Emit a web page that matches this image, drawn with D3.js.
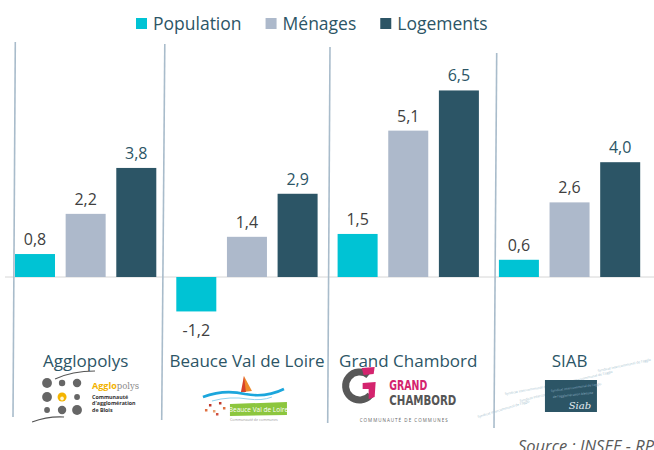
<!DOCTYPE html>
<html><head><meta charset="utf-8">
<script src="https://cdn.jsdelivr.net/npm/d3@7"></script>
<style>
html,body{margin:0;padding:0;background:#fff;overflow:hidden;}
svg{display:block;font-family:"Open Sans",sans-serif;}
</style></head><body>
<svg id="chart" width="654" height="450"></svg>
<script>
// ---- data ----
const categories = ["Agglopolys", "Beauce Val de Loire", "Grand Chambord", "SIAB"];
const seriesNames = ["Population", "Ménages", "Logements"];
const population = [0.8, -1.2, 1.5, 0.6];
const menages = [2.2, 1.4, 5.1, 2.6];
const logements = [3.8, 2.9, 6.5, 4.0];
const sourceText = "Source : INSEE - RP";

// ---- styles ----
const colors = ["#00c3d4", "#adb9cb", "#2c5566"];
const labelColors = ["#404040", "#404040", "#2c5566"];
const textTeal = "#2c5566";

const svg = d3.select("#chart");
const seriesValues = [population, menages, logements];
const rows = [];
categories.forEach((c, i) => seriesNames.forEach((s, j) => rows.push({cat: c, ser: s, si: j, v: seriesValues[j][i]})));

const x0 = d3.scaleBand().domain(categories).range([15, 640.2]).paddingInner(0.124).paddingOuter(0);
const x1 = d3.scaleBand().domain(seriesNames).range([0, x0.bandwidth()]).paddingInner(0.21).paddingOuter(0);
const y = d3.scaleLinear().domain([-2, 7]).range([334.4, 76.1]);
const fmt = v => d3.format(".1f")(Math.abs(v)).replace(".", ",");
const fmtLabel = v => (v < 0 ? "-" : "") + fmt(v);

// zero line
svg.append("line").attr("x1", 5).attr("x2", 654).attr("y1", y(0)).attr("y2", y(0))
  .attr("stroke", "#d6d6d6").attr("stroke-width", 1);

// dividers (frame borders, slightly tilted as in reference)
const dividers = [
  {xt: 15.3, yt: 42, xb: 13, yb: 417},
  {xt: 164.8, yt: 44, xb: 161.7, yb: 420},
  {xt: 330, yt: 47, xb: 327.7, yb: 423},
  {xt: 496.7, yt: 53, xb: 494, yb: 428}
];
svg.selectAll("line.div").data(dividers).join("line").attr("class", "div")
  .attr("x1", d => d.xt).attr("y1", d => d.yt).attr("x2", d => d.xb).attr("y2", d => d.yb)
  .attr("stroke", "#a9bccb").attr("stroke-width", 1.6);

// bars
const bx = d => x0(d.cat) + x1(d.ser);
svg.selectAll("rect.bar").data(rows).join("rect").attr("class", "bar")
  .attr("x", bx).attr("width", x1.bandwidth())
  .attr("y", d => y(Math.max(0, d.v))).attr("height", d => Math.abs(y(d.v) - y(0)))
  .attr("fill", d => colors[d.si]);

// value labels
svg.selectAll("text.val").data(rows).join("text").attr("class", "val")
  .attr("x", d => bx(d) + x1.bandwidth() / 2)
  .attr("y", d => d.v >= 0 ? y(d.v) - 9 : y(d.v) + 25)
  .attr("text-anchor", "middle").attr("font-size", 16)
  .attr("fill", d => labelColors[d.si]).text(d => fmtLabel(d.v));

// category labels
svg.selectAll("text.cat").data(categories).join("text").attr("class", "cat")
  .attr("x", d => x0(d) + x0.bandwidth() / 2).attr("y", 366.5)
  .attr("text-anchor", "middle").attr("font-size", 17).attr("fill", textTeal).text(d => d);

// legend
const leg = svg.append("g");
let lx = 136;
seriesNames.forEach((s, i) => {
  leg.append("rect").attr("x", lx).attr("y", 18).attr("width", 11).attr("height", 11).attr("fill", colors[i]);
  const t = leg.append("text").attr("x", lx + 17).attr("y", 29.5).attr("font-size", 17.5).attr("fill", textTeal).text(s);
  lx += 17 + t.node().getComputedTextLength() + 24;
});

// source (cut by the right and bottom edges, as in the reference)
svg.append("text").attr("x", 518).attr("y", 452).attr("font-size", 16.5).attr("font-style", "italic")
  .attr("fill", "#595959").text(sourceText);

// ---- logos (decorative approximations) ----
const cx = c => x0(c) + x0.bandwidth() / 2;

// Agglopolys
{
  const g = svg.append("g").attr("transform", `translate(${cx(categories[0]) - 85.6},0)`);
  const dots = [[47,383,4.9],[62,383,3.2],[77,383,4.2],[47,397,4.9],[77,397,2.9],[47,410,2.9],[62,410,4.2],[77,410,4.9]];
  g.selectAll("circle").data(dots).join("circle").attr("cx", d => d[0]).attr("cy", d => d[1]).attr("r", d => d[2]).attr("fill", "#666");
  g.append("circle").attr("cx", 62).attr("cy", 397).attr("r", 4.5).attr("fill", "#f4b400");
  g.append("ellipse").attr("cx", 62).attr("cy", 398.5).attr("rx", 1.8).attr("ry", 2).attr("fill", "#fff6d0");
  g.append("path").attr("d", "M55,379 Q72,371 95,371").attr("fill", "none").attr("stroke", "#555").attr("stroke-width", 1.2);
  g.append("path").attr("d", "M32,422 Q48,416 64,417").attr("fill", "none").attr("stroke", "#555").attr("stroke-width", 1.2);
  const t = g.append("text").attr("x", 92).attr("y", 389).attr("font-size", 9);
  t.append("tspan").attr("font-weight", "bold").attr("fill", "#f2b200").text("Agglo");
  t.append("tspan").attr("font-family", "DejaVu Serif, serif").attr("fill", "#8a8a8a").attr("font-size", 8.5).text("polys");
  ["Communauté", "d'agglomération", "de Blois"].forEach((s, i) =>
    g.append("text").attr("x", 92).attr("y", 398.5 + i * 6.5).attr("font-size", 5.3).attr("font-weight", "bold").attr("fill", "#333").text(s));
}

// Beauce Val de Loire
{
  const g = svg.append("g").attr("transform", `translate(${cx(categories[1]) - 247},0)`);
  g.append("path").attr("d", "M244,376 L252,391 L243,392 Z").attr("fill", "#ee8a2c");
  g.append("path").attr("d", "M244,376 L246,392 L241,392 Z").attr("fill", "#d8432a");
  g.append("path").attr("d", "M203,397 Q224,389 245,394 Q266,398 284,389").attr("fill", "none").attr("stroke", "#1ba6dc").attr("stroke-width", 2.6);
  g.append("path").attr("d", "M212,401 Q230,396 248,399 Q262,401 272,397").attr("fill", "none").attr("stroke", "#8fd3ef").attr("stroke-width", 1);
  const sq = [[205,409,"#e07040"],[209,404,"#c0392b"],[213,410,"#e8a070"],[219,402,"#c0392b"],[223,407,"#e07040"],[216,413,"#d05040"]];
  g.selectAll("rect.d").data(sq).join("rect").attr("class", "d").attr("x", d => d[0]).attr("y", d => d[1]).attr("width", 2.5).attr("height", 2.5).attr("fill", d => d[2]);
  g.append("path").attr("d", "M230,404 L287,402 L287,415 L230,416 Z").attr("fill", "#8cc63e");
  g.append("text").attr("x", 258.5).attr("y", 412).attr("text-anchor", "middle").attr("font-size", 6.5).attr("fill", "#fff").text("Beauce Val de Loire");
  g.append("text").attr("x", 230).attr("y", 421).attr("font-size", 3.6).attr("fill", "#999").text("Communauté de communes");
}

// Grand Chambord
{
  const g = svg.append("g").attr("transform", `translate(${cx(categories[2]) - 410.6},0)`);
  g.append("path").attr("d", "M371,375.3 A14,14 0 1 0 372.7,395").attr("fill", "none").attr("stroke", "#585858").attr("stroke-width", 7);
  g.append("path").attr("d", "M364,368 L377,367 L376,374 L366,375 Z").attr("fill", "#d4246e");
  g.append("path").attr("d", "M365,383 L378,382 L377,397 L371,399 L371,389 L365,389 Z").attr("fill", "#d4246e");
  g.append("text").attr("x", 391.7).attr("y", 389.5).attr("font-size", 14).attr("font-weight", "bold")
    .attr("font-family", "DejaVu Sans Condensed, DejaVu Sans, sans-serif").attr("fill", "#d4246e")
    .attr("textLength", 38).attr("lengthAdjust", "spacingAndGlyphs").text("GRAND");
  g.append("text").attr("x", 391.7).attr("y", 405).attr("font-size", 14).attr("font-weight", "bold")
    .attr("font-family", "DejaVu Sans Condensed, DejaVu Sans, sans-serif").attr("fill", "#555")
    .attr("textLength", 67).attr("lengthAdjust", "spacingAndGlyphs").text("CHAMBORD");
  g.append("text").attr("x", 362).attr("y", 422).attr("font-size", 4.5).attr("fill", "#666")
    .attr("textLength", 88).attr("lengthAdjust", "spacing").text("COMMUNAUTÉ DE COMMUNES");
}

// SIAB
{
  const g = svg.append("g").attr("transform", `translate(${cx(categories[3]) - 569.6},0)`);
  const faint = [[478,418,-17],[520,402,-14],[560,385,-13],[598,372,-12],[505,395,-10]];
  g.selectAll("text.f").data(faint).join("text").attr("class", "f")
    .attr("transform", d => `translate(${d[0]},${d[1]}) rotate(${d[2]})`)
    .attr("font-size", 3.4).attr("fill", "#a6bfd0").text("Syndicat intercommunal de l'agglo");
  g.append("rect").attr("x", 545).attr("y", 380).attr("width", 52).attr("height", 32).attr("fill", "#2c5566");
  g.append("text").attr("transform", "translate(551,392) rotate(-8)").attr("font-size", 3.2).attr("fill", "#8fb0c4").text("Syndicat intercommunal de l'agglo");
  g.append("text").attr("transform", "translate(553,398) rotate(-6)").attr("font-size", 3.2).attr("fill", "#8fb0c4").text("de l'agglomération blésoise");
  g.append("text").attr("x", 580).attr("y", 409).attr("text-anchor", "middle").attr("font-size", 10)
    .attr("font-style", "italic").attr("font-family", "DejaVu Serif, serif").attr("fill", "#e8eef2").text("Siab");
}
</script>
</body></html>
